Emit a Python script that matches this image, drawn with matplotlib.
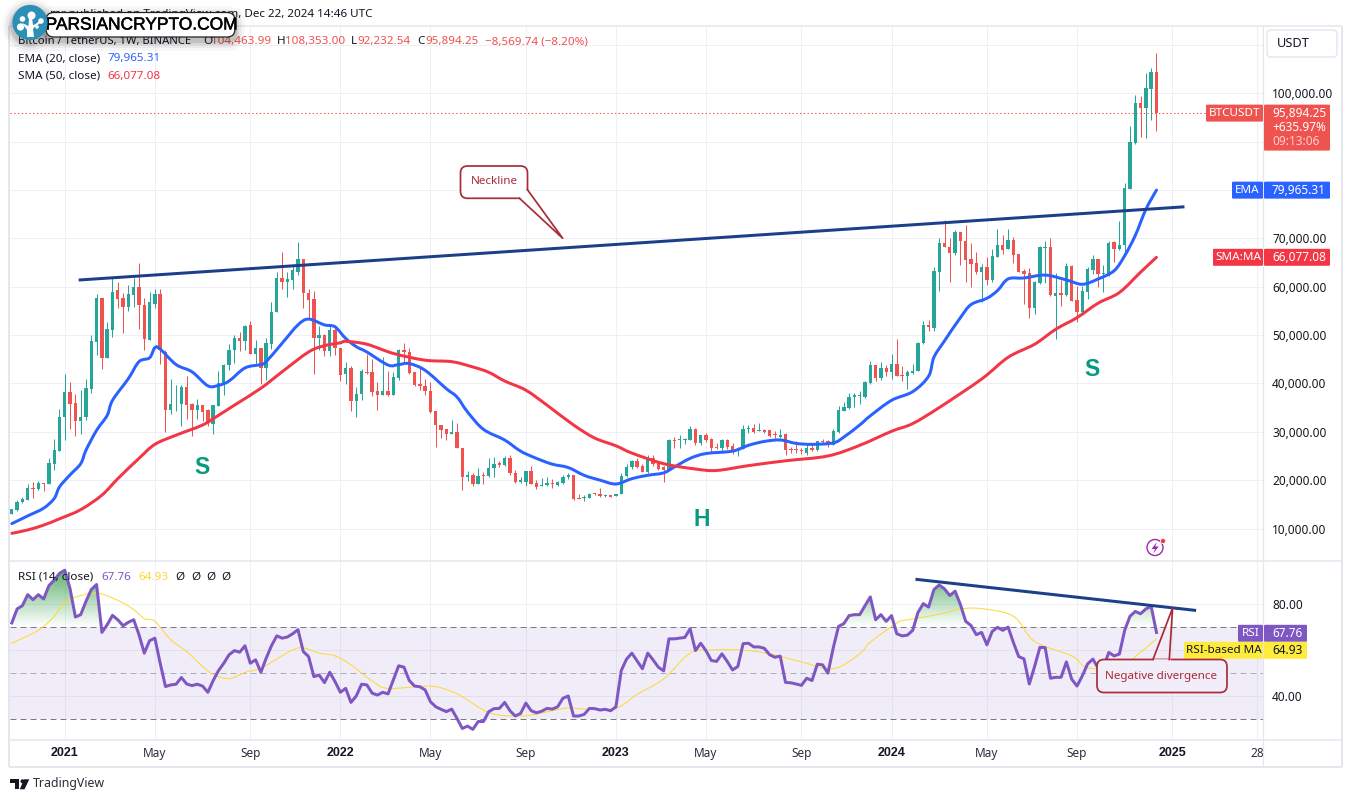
import numpy as np
import matplotlib
matplotlib.use("Agg")
import matplotlib.pyplot as plt
import matplotlib.patheffects as pe
from matplotlib.patches import FancyBboxPatch, Circle, Polygon, PathPatch
from matplotlib.path import Path

plt.rcParams['font.family'] = ['Noto Sans', 'DejaVu Sans']

# ---------- data (prices in thousands of USDT, x = weeks since 4 Jan 2021) ----------
weeks = list(range(-10, 207))
opens = [12.9,13.8,15.4,15.85,18.4,18.1,19.4,19.2,23.4,26,
 33,38.3,36,32.2,33,38.8,48.5,57.6,45.2,51,
 59.3,57.6,55.7,58.3,60,56.3,49,56.5,58.4,46.5,
 34.6,35.7,35.7,39.2,35.7,34.6,35.5,34.5,31.7,35.3,
 40,43.8,46.9,49.3,48.8,52,46,47.4,43.2,48.1,
 54.7,61.7,60.9,61.4,63.1,65.7,58.8,57.4,49.3,50.1,
 46.8,51,47.4,41.9,43.2,36.3,37.8,42.4,42.3,38.5,
 37.7,38.5,37.7,41.2,46.9,46.5,42.3,39.8,39.5,38.5,
 34.3,31.5,30.5,29.5,30,26.7,20.7,21.1,19.3,21,
 20.8,22.5,23.5,23.1,24.5,21.5,19.6,19.6,21.9,19.4,
 18.7,18.9,19.4,18.9,19.5,20.7,21,16.4,16.4,16.4,
 17.3,17.2,16.8,16.9,16.7,17.1,20.8,22.7,23.9,22.9,
 21.7,24.6,23.8,22.7,22,28.3,28.3,28.2,28.2,30.5,
 27.6,29.4,28.6,26.9,26.7,28.3,27.1,26.4,26.5,30.5,
 30.7,30.1,30.3,30.3,29.5,29,29.5,26.4,26.4,26.2,
 25.7,26.7,26.2,28.1,28,27.2,30,34.4,35,37.2,
 37.4,37.2,40.1,43.9,41.2,43.1,42.3,44.1,41.8,41.5,
 42.1,42.5,48.3,52.1,51.4,63.1,69,68.3,67,71.4,
 69.5,65.7,64.9,63.1,64.1,61.4,66.2,68.6,67.7,69.7,
 66.8,63.3,62.8,55.6,60.7,68.1,68.3,58.1,58.7,58.3,
 64.3,57.2,54.7,59,63.5,65.7,62.6,62.6,69.2,67.8,
 68.6,80.2,89.7,97.9,96.9,100.9,104.46]
highs = [14.1,15.9,16.5,19.1,19.6,19.8,19.5,24.5,28.6,34.8,
 42,40.2,37.9,38.7,41,50,58.4,57.6,52.8,61.9,
 60.9,58.6,60.4,61.7,65,57.6,59,59.6,59.6,46.9,
 41,39.6,39.6,41.5,36,36.7,35.5,34.8,35.5,42.6,
 44.1,48.2,50,50.7,52,52.9,49,47.4,49.3,56.8,
 63.1,67.1,63.1,64.3,69.2,65.7,59.6,59.2,51.9,50.3,
 52,52,47.4,44.5,43.6,39.2,42.9,46,45,40.3,
 45.5,42.6,42.4,47.2,48.3,47.4,42.3,43.1,41,40.2,
 34.3,31.5,30.5,32.5,31.8,26.7,21.9,21.4,22.6,21.7,
 24.5,24.8,23.9,25,25.3,22,20.7,21.9,22.9,20,
 20.5,20.7,20.2,19.8,21.1,21.5,21.1,17.2,16.9,17.4,
 17.4,18.4,17.2,17,17.2,21.4,23.4,24.1,24.5,23.3,
 25.3,25.3,23.8,22.9,28.6,28.9,29.3,28.8,31.1,30.7,
 29.4,29.8,28.7,27.6,28.5,28.5,27.6,26.9,31.5,31.5,
 31.7,31.9,30.5,30.3,30.1,30.5,29.8,26.9,28.1,26.6,
 27.2,27.6,28.1,28.6,28.3,30.5,35.4,36.1,38.1,38.1,
 38.5,40.5,44.7,43.9,44.5,43.9,46,49.1,43.6,42.8,
 44.1,48.6,53,53.2,64,70,73.7,70,71.7,71.4,
 72.8,69,67.1,64.7,66.1,67.8,71.9,70.6,71.9,70.2,
 66.8,63.7,63.8,61.1,68.5,69.5,70.1,62.8,61.4,65,
 64.5,60.2,60.2,64,66.5,65.7,64.5,69.5,69.5,73.5,
 81.4,93.2,99.7,99.5,104.2,105.2,108.35]
lows = [12.9,13.6,15.2,15.85,16.3,18,17.7,19.1,22,26,
 28.3,30.5,29.1,29.5,32.4,38,45.8,43,45.2,49.5,
 55.6,50.5,55,55.7,51.2,47,49,55.5,44,30,
 33.6,34.3,31.2,32.7,29.1,32.6,32.2,31.2,29.5,35.3,
 37.6,42.7,44.3,46.7,46.9,46,43.8,39.8,40.8,47.1,
 54.7,59.6,57.9,59.6,62.4,55.6,53.4,42,46.9,45.6,
 45.7,45.9,40.6,39.9,34.3,33.1,36.5,41.9,37.4,34.5,
 37.6,37.4,37.7,40.7,44.3,42,39.4,38.7,37.6,33.9,
 26.9,28.8,28.3,29.5,26.7,17.9,19.8,18.8,19.1,19.1,
 20.7,20.7,22.7,22.9,21.1,19.4,19.4,18.7,19.3,18.2,
 18.7,18.7,18.3,18.8,19.3,20.3,15.8,16,15.6,16.3,
 16.9,16.6,16.5,16.5,16.7,17.1,20.6,22.4,22.6,21.6,
 21.5,22.9,22.1,19.6,22,26.7,26.6,27.4,28.2,27.2,
 27.2,27.9,25.8,26.4,25.9,26.5,25.4,25,26.4,29.7,
 29.8,30.1,29.7,29,28.7,28.8,25.3,25.6,25.6,25.5,
 25.1,26.1,26.1,27.6,26.9,27.2,29.8,34.3,34.8,35.1,
 35.8,36.9,39.9,40.5,40.7,41.5,40.9,41.6,40.5,38.8,
 41.9,42.5,48.1,50.8,50.9,59.2,68.3,60.9,66.5,64.5,
 60.9,59.9,62.6,56.8,60.3,60.9,66.2,66.8,67.7,65,
 63.1,56.4,53.6,54.3,60.5,60.7,58,49.2,56.1,58.1,
 57.1,52.6,54.5,57.4,62.6,59.9,59,62.3,65.2,67.6,
 67.1,80.2,89.6,90.9,90.7,94.4,92.23]
closes = [14,15.5,16,18.4,18.1,19.4,19.3,23.6,26.3,33,
 38.3,35.8,32.2,33.1,39,48.7,57.6,45.2,51.2,59,
 57.4,55.7,58.5,60,56.2,49.1,56.8,58.4,46.9,34.6,
 35.8,35.8,39.2,35.5,34.6,35.5,34.1,31.8,35.5,40,
 43.9,47,49.3,48.8,51.9,46,47.4,43.2,48.3,54.8,
 61.7,60.9,61.5,63.4,65.7,58.6,57.2,49.3,50.1,46.8,
 51,47.3,41.8,43.2,36.3,37.9,42.5,42.1,38.3,37.7,
 38.5,37.7,41.4,46.9,46.4,42.2,39.6,39.4,38.4,34,
 31.4,30.3,29.5,30,26.7,20.7,21.1,19.3,20.9,20.8,
 22.6,23.4,23.2,24.5,21.4,19.6,20,21.9,19.3,18.6,
 19,19.4,19.3,19.6,20.7,21,16.2,16.2,16.6,17.2,
 17.1,16.7,17,16.6,17.1,20.9,22.8,23.9,22.7,21.7,
 24.6,23.4,22.3,22,28.2,28,28.5,28.5,30.5,27.6,
 29.4,28.4,26.7,26.7,28.3,26.9,25.9,26.5,30.6,30.7,
 30,30.3,30,29.2,29.3,29.4,26.2,26.2,26.2,26,
 26.7,26.2,28.1,27.9,27.2,30.1,34.5,35.2,37.2,37.6,
 37.6,40.2,43.9,41.2,43.1,42.3,44.1,41.6,41.6,42.3,
 42.6,48.4,52.1,51.6,63.3,69,68.3,67,71.4,69.4,
 65.6,64.7,63.1,64.1,61.4,66.4,68.6,67.6,69.7,66.6,
 63.1,62.6,55.5,60.9,68.3,68.3,58.3,58.7,58.3,64.2,
 57.1,54.7,59.2,63.7,65.7,62.6,62.8,69,67.8,68.7,
 80.4,89.9,97.9,96.9,101,104.4,95.89]

ema_weeks = [-10,-7,-4,-2,-1,1,3,4,6,8,9,12,14,16,17,18,21,24,27,29,31,34,37,38,41,44,46,49,51,
 53,55,57,61,63,65,68,72,74,76,79,83,86,89,92,95,98,101,104,107,110,113,115,118,121,126,129,
 132,135,138,141,145,147,150,152,156,160,163,164,166,169,171,174,176,178,181,185,189,192,195,
 198,200,202,204,206]
ema_vals = [11.0,12.6,14.2,16.2,18.6,21.1,23.4,26.2,30.3,33.4,36.5,41.0,44.5,45.3,47.4,47.1,43.9,42.4,39.5,39.6,40.5,43.2,43.9,44.5,48.3,52.1,53.3,52.1,51.7,
 49.3,47.6,46.5,43.8,43.9,44.1,42.7,38.9,37.2,34.1,30.5,28.3,26,24.5,23.3,22.6,21,20,19.2,20.3,21,21.5,22.7,24.5,25.5,26,27.2,
 28,28.3,27.6,27.4,27.7,28.9,31.4,33.3,36.5,38.3,41.5,45.4,48.8,53.6,56.3,57.6,59.2,61.6,61.8,62.4,61.4,60.5,61.6,
 63.3,66.4,70.6,76,79.97]
sma_weeks = [-10,-7,-4,-1,3,7,10,14,17,21,26,29,32,37,41,46,49,52,53,57,62,68,73,77,80,83,87,91,96,
 100,104,107,113,119,123,129,136,144,150,156,160,165,173,178,183,187,191,195,199,203,206]
sma_vals = [9.0,9.7,10.7,12.0,13.9,16.9,20.3,24.5,27.4,29.3,31.4,33.4,35.5,39,42.4,46.5,47.8,48.4,48.7,48.1,46.2,44.8,44.5,43.4,42.3,40.5,38.6,35.5,31.4,
 28.7,27.1,25.6,23.4,22.3,22,23,24,25,27.2,30.1,31.7,35,40.9,45.4,48.1,51.2,53.6,56.6,58.8,63,66.08]
neckline_weeks = [2.9, 211.0]
neckline_vals = [61.4, 76.5]

rsi_vals = [71.9,78,79.4,84.2,82,84.2,82.3,88.1,90.5,93.4,
 94.8,86.7,74.5,75.5,81.3,86.4,88.6,67.8,71.1,75.2,
 73.3,70.7,72.2,73.3,66.8,58.8,64.2,65.3,54.4,44.3,
 45,45.3,48.2,45.4,44.7,45.3,44.5,41.8,46.9,51.2,
 54.4,58.1,59.9,59.2,62,54.4,55.9,50.5,56.6,62,
 66.3,65.3,65.8,67.2,69,59.5,57.3,48.6,49.3,46,
 50.5,46.4,41.8,43.5,37.4,40.2,45.3,45,41.4,40.6,
 41.8,41.1,47.2,53.3,52.7,46.9,44.5,44.2,42.8,37.7,
 35.5,34.4,33.4,34.5,30.5,26.1,27.1,25.7,29.1,29.1,
 33.4,34.7,34.8,37.4,33.8,31.5,32.6,37.1,33.8,32.9,
 33.6,34.8,34.5,35.5,39.2,40.2,31.5,31.5,32.2,34.8,
 34.7,34.1,34.4,33.8,35.5,51.2,56.2,58.8,55.4,52,
 58.8,55.9,52.7,51.1,65,65,65.3,65.6,69.4,59.9,
 63.1,59.8,55.6,55.2,58.5,55.2,51.5,53,62.9,63.1,
 61.5,61.5,60.9,58.1,57,57.5,46.1,45.9,45.4,44.8,
 47.9,46.9,54,53.7,50.1,61,70.4,71.6,75.1,75.5,
 75.5,79.4,83.2,73.3,75.5,72.6,75.1,67.2,66.3,66.6,
 68.7,76.5,80.3,78.8,86.4,88.4,86.7,83.8,85.7,79.9,
 72.6,70.8,66.8,67.8,62.4,68.2,70,68.7,70.1,63.4,
 57.3,56.3,45.4,53,61.3,61.2,47.9,48.3,48.3,55,
 47.5,44.5,48.9,54.1,56.2,52.2,52.7,59.1,57.6,58.4,
 68.7,74.8,76.9,75.9,78,79.1,67.76]
rsima_weeks = [-10,-5,-2,0,2,6,10,13,15,17,20,23,26,28,31,34,37,40,43,45,48,51,54,58,61,69,73,
 75,79,82,87,92,95,99,104,108,113,118,122,128,133,139,145,150,152,157,158,161,166,169,173,179,183,190,193,199,202,206]
rsima_vals = [63.1,68.7,74.8,80.9,83.1,84.9,81.7,77.7,73.8,72.6,64.6,59.5,53,49.6,47.7,50.4,52.2,56.3,60.2,61.1,58.8,57.6,53.7,46.7,43.5,44.5,42.1,
 39.9,34.1,31.9,31.6,33.8,35,34.4,34.8,40.9,47.6,58.8,60.2,60.1,58.5,55,52,58.5,63.6,71.9,72.9,74,76.2,78,78.1,74.8,63.9,57.6,52.5,52.5,57.3,65]
rsi_trend_weeks = [160.8, 213.2]
rsi_trend_vals = [90.8, 77.4]

price_ticks = [10, 20, 30, 40, 50, 60, 70, 80, 90, 100, 110]
price_labeled = [10, 20, 30, 40, 50, 60, 70, 100]
rsi_grid = [80, 60, 40]
rsi_labeled = [80, 40]
time_ticks = [0, 17, 35, 52, 69, 87, 104, 121, 139, 156, 174, 191, 209, 225]
time_labels = ['2021', 'May', 'Sep', '2022', 'May', 'Sep', '2023', 'May', 'Sep', '2024', 'May', 'Sep', '2025', '28']
year_labels = {'2021', '2022', '2023', '2024', '2025'}

last_close, last_ema, last_sma = 95.89425, 79.96531, 66.07708
last_rsi, last_rsima = 67.76, 64.93

# ---------- colours ----------
UP, DOWN = '#26a69a', '#ef5350'
EMA_C, SMA_C = '#2962ff', '#f23645'
NAVY = '#1c3f8a'
GRID = '#eef0f5'
BORDER = '#e4e6ee'
TXT = '#131722'
PURPLE = '#7e57c2'
YEL = '#fdd835'
CALL = '#a82c38'
PX = 0.72

def smooth(a, xs, ys, color, lw, zorder):
    """Stroke a curve through the read points, with Bezier segments (no added data)."""
    p = np.column_stack([xs, ys]).astype(float)
    verts = [tuple(p[0])]
    codes = [Path.MOVETO]
    n = len(p)
    for i in range(n - 1):
        p0 = p[max(i - 1, 0)]; p1 = p[i]; p2 = p[i + 1]; p3 = p[min(i + 2, n - 1)]
        verts += [tuple(p1 + (p2 - p0) / 6), tuple(p2 - (p3 - p1) / 6), tuple(p2)]
        codes += [Path.CURVE4] * 3
    a.add_patch(PathPatch(Path(verts, codes), fc='none', ec=color, lw=lw, zorder=zorder, capstyle='round', joinstyle='round'))

W, H = 1351, 802
fig = plt.figure(figsize=(W / 100, H / 100), dpi=100, facecolor='white')
L, R = 10, 1263
ax = fig.add_axes([L / W, 1 - 561 / H, (R - L) / W, (561 - 27) / H])
rx = fig.add_axes([L / W, 1 - 739.5 / H, (R - L) / W, (739.5 - 561) / H])
ov = fig.add_axes([0, 0, 1, 1], zorder=10)
ov.set_xlim(0, W); ov.set_ylim(H, 0); ov.axis('off'); ov.patch.set_alpha(0)

xlim = (-10.34, 226.1)
for a in (ax, rx):
    a.set_xlim(*xlim)
    a.set_facecolor('white')
    for s in a.spines.values():
        s.set_visible(False)
    a.set_axisbelow(True)
    a.set_xticks(time_ticks)
    a.grid(axis='x', color=GRID, lw=PX)
    a.yaxis.tick_right()

# main pane
ax.set_ylim(3.28, 113.7)
ax.set_yticks(price_ticks)
ax.set_yticklabels([f'{v*1000:,.2f}' if v in price_labeled else '' for v in price_ticks])
ax.grid(axis='y', color=GRID, lw=PX)
ax.tick_params(axis='both', length=0, labelsize=8.5, labelcolor=TXT, pad=6.5)
ax.tick_params(axis='x', labelbottom=False)

wk = np.array(weeks); o = np.array(opens); h = np.array(highs); l = np.array(lows); c = np.array(closes)
cols = np.where(c >= o, UP, DOWN)
ax.vlines(wk, l, h, colors=cols, lw=PX, zorder=2)
ax.bar(wk, np.maximum(np.abs(c - o), 0.12), bottom=np.minimum(o, c), width=0.64, color=cols, lw=0, zorder=3)
ax.axhline(last_close, xmax=(1206 - L) / (R - L), color=DOWN, lw=0.8, ls=(0, (1.2, 2.2)), zorder=2)
smooth(ax, ema_weeks, ema_vals, EMA_C, 3 * PX, 4)
smooth(ax, sma_weeks, sma_vals, SMA_C, 3 * PX, 4)
ax.plot(neckline_weeks, neckline_vals, color=NAVY, lw=3 * PX, zorder=5)

# RSI pane
rx.set_ylim(21.3, 98.8)
rx.set_yticks(rsi_labeled)
rx.set_yticklabels([f'{v:.2f}' for v in rsi_labeled])
for v in rsi_grid:
    rx.axhline(v, color=GRID, lw=PX, zorder=0)
rx.axhspan(30, 70, color=PURPLE, alpha=0.1, lw=0, zorder=1)
for v, al in ((70, 1.0), (50, 0.55), (30, 1.0)):
    rx.axhline(v, color='#787b86', alpha=al, lw=PX, ls=(0, (6, 4)), zorder=1.5)
rx.tick_params(axis='y', length=0, labelsize=8.5, labelcolor=TXT, pad=6.5)
rx.set_xticklabels(time_labels)
rx.tick_params(axis='x', length=0, labelsize=8.5, labelcolor=TXT, pad=5.5)
for t in rx.get_xticklabels():
    if t.get_text() in year_labels:
        t.set_fontfamily('Liberation Sans')
        t.set_fontweight('bold')
        t.set_fontsize(9)
    else:
        t.set_color('#2a2e39')

rsi = np.array(rsi_vals)
poly = rx.fill_between(wk, rsi, 70, where=rsi > 70, interpolate=True, color='none', lw=0)
grad = np.zeros((120, 2, 4))
grad[..., 0] = 0.22; grad[..., 1] = 0.62; grad[..., 2] = 0.30
grad[..., 3] = np.linspace(0.85, 0, 120)[:, None]
im = rx.imshow(grad, extent=[xlim[0], xlim[1], 70, 96], aspect='auto', zorder=1.6, origin='upper')
cp = Path.make_compound_path(*poly.get_paths())
im.set_clip_path(PathPatch(cp, transform=rx.transData))
rx.set_xlim(*xlim); rx.set_ylim(21.3, 98.8)
smooth(rx, rsima_weeks, rsima_vals, YEL, 1 * PX, 3)
rx.plot(wk, rsi, color=PURPLE, lw=3 * PX, zorder=4, solid_joinstyle='round')
rx.plot(rsi_trend_weeks, rsi_trend_vals, color=NAVY, lw=3 * PX, zorder=5)

fig.canvas.draw()

def y_px(a, v):
    return H - a.transData.transform((0, v))[1]

# frame
for xs, ys, lw in (([9, 9], [26, 767], 2), ([1342, 1342], [26, 767], 2), ([9, 1342], [26, 26], 1.5),
                   ([9, 1342], [767, 767], 2), ([R, R], [26, 767], 1.2), ([9, 1342], [561, 561], 1.5),
                   ([9, 1342], [739.5, 739.5], 1.5)):
    ov.plot(xs, ys, color=BORDER, lw=lw * PX, solid_capstyle='butt', zorder=1)

def tag(x0, x1, yc, hh, col, label=None, tcol='white', size=8.4, x=None, ha='center'):
    ov.add_patch(FancyBboxPatch((x0, yc - hh / 2), x1 - x0, hh, boxstyle='round,pad=0,rounding_size=1.2',
                                fc=col, ec='none', zorder=3))
    if label:
        ov.text(x if x else (x0 + x1) / 2, yc + 0.4, label, color=tcol, fontsize=size, ha=ha, va='center', zorder=4)

yp = y_px(ax, last_close)
tag(1206, 1263, yp, 17, '#ef5350', 'BTCUSDT')
tag(1264, 1330, yp + 14.5, 46, '#ef5350')
ov.text(1272, yp + 0.4, f'{last_close*1000:,.2f}', color='white', fontsize=8.5, va='center', zorder=4)
ov.text(1272, yp + 14.5, '+635.97%', color='white', fontsize=8.5, va='center', zorder=4)
ov.text(1272, yp + 28.5, '09:13:06', color='#fbd0ce', fontsize=8.5, va='center', zorder=4)
yp = y_px(ax, last_ema)
tag(1232, 1263, yp, 17, EMA_C, 'EMA')
tag(1264, 1330, yp, 17, EMA_C, f'{last_ema*1000:,.2f}', x=1272, ha='left', size=8.5)
yp = y_px(ax, last_sma)
tag(1213, 1263, yp, 17, SMA_C, 'SMA:MA')
tag(1264, 1330, yp, 17, SMA_C, f'{last_sma*1000:,.2f}', x=1272, ha='left', size=8.5)
yp = y_px(rx, last_rsi) + 0.8
tag(1238, 1263, yp, 17, PURPLE, 'RSI')
tag(1264, 1307, yp, 17, PURPLE, f'{last_rsi:.2f}', x=1272, ha='left', size=8.5)
yp = yp + 17
tag(1184, 1263, yp, 17, '#ffeb3b', 'RSI-based MA', tcol=TXT)
tag(1264, 1307, yp, 17, '#ffeb3b', f'{last_rsima:.2f}', tcol=TXT, x=1272, ha='left', size=8.5)

# USDT button
ov.add_patch(FancyBboxPatch((1267, 30), 70, 27, boxstyle='round,pad=0,rounding_size=4', fc='white', ec=BORDER, lw=1, zorder=3))
ov.text(1277, 43.5, 'USDT', color=TXT, fontsize=9.2, va='center', zorder=4)

# header / legends
ov.text(372, 15, 'mr published on TradingView.com, Dec 22, 2024 14:46 UTC', color=TXT, fontsize=8.4, ha='right', va='center', zorder=2)
def legend_row(y, items):
    for x, s, col in items:
        ov.text(x, y, s, color=col, fontsize=8.4, va='center', zorder=2)
ov.text(18, 41.7, 'Bitcoin / TetherUS, 1W, BINANCE', color=TXT, fontsize=8.1, va='center', zorder=2)
legend_row(41.7, [(203, 'O', TXT), (211.5, '104,463.99', DOWN),
                  (276.5, 'H', TXT), (285, '108,353.00', DOWN), (350.5, 'L', TXT), (357, '92,232.54', DOWN),
                  (417.5, 'C', TXT), (425.5, '95,894.25', DOWN), (485, '−8,569.74 (−8.20%)', DOWN)])
legend_row(59, [(18, 'EMA (20, close)', TXT), (107.5, '79,965.31', EMA_C)])
legend_row(76, [(18, 'SMA (50, close)', TXT), (107, '66,077.08', SMA_C)])
legend_row(577, [(18, 'RSI (14, close)', TXT), (101.5, '67.76', PURPLE), (138, '64.93', YEL),
                 (175, 'Ø', TXT), (191, 'Ø', TXT), (206, 'Ø', TXT), (221, 'Ø', TXT)])

# pattern letters
for x, y, s in ((202, 467, 'S'), (702, 519, 'H'), (1092, 370, 'S')):
    ov.text(x, y, s, color='#089981', fontsize=16.5, family='Liberation Sans', fontweight='bold', ha='center', va='center', zorder=3)

# Neckline callout
ov.add_patch(FancyBboxPatch((460.5, 166), 67, 32.3, boxstyle='round,pad=0,rounding_size=7', fc='white', ec=CALL, lw=1.25, zorder=3))
ov.add_patch(Polygon([(519.5, 198.3), (562.7, 238.3), (527.3, 189.5)], closed=True, fc='white', ec='none', zorder=3.1))
ov.plot([519.5, 562.7, 527.3], [198.3, 238.3, 189.5], color=CALL, lw=1.25, zorder=3.2)
ov.text(494, 182, 'Neckline', color=CALL, fontsize=8.4, ha='center', va='center', zorder=4)

# Negative divergence callout
ov.add_patch(FancyBboxPatch((1097, 659.5), 130, 33, boxstyle='round,pad=0,rounding_size=7', fc='#f1edf9', ec=CALL, lw=1.25, zorder=3))
ov.plot([1153, 1172.6, 1169.3], [659.5, 608, 659.5], color=CALL, lw=1.25, zorder=3.2)
ov.plot([1154, 1168.5], [659.5, 659.5], color='#f1edf9', lw=1.8, zorder=3.15)
ov.text(1161, 676, 'Negative divergence', color=CALL, fontsize=8.4, ha='center', va='center', zorder=4)

# lightning icon
ov.add_patch(Circle((1155, 547.5), 8, fc='none', ec='#9c27b0', lw=1.0, zorder=3))
ov.add_patch(Polygon([(1157, 542), (1151.5, 549), (1155, 549), (1153, 553.5), (1158.8, 546.5), (1155.3, 546.5)], closed=True, fc='#9c27b0', ec='none', zorder=3))
ov.add_patch(Circle((1163, 541), 2.6, fc='#f23645', ec='white', lw=0.6, zorder=3.2))

# TradingView logo
ov.add_patch(Polygon([(10, 779.3), (19.3, 779.3), (19.3, 789.3), (15, 789.3), (15, 783.3), (10, 783.3)], closed=True, fc=TXT, ec='none', zorder=3))
ov.add_patch(Circle((22.5, 781.3), 2, fc=TXT, ec='none', zorder=3))
ov.add_patch(Polygon([(24, 779.3), (29.3, 779.3), (24.5, 789.3), (19.8, 789.3)], closed=True, fc=TXT, ec='none', zorder=3))
ov.text(33, 784, 'TradingView', color='#2a2e39', fontsize=8.9, va='center', zorder=3)

# site logo with shadow
for grow, al in ((10, 0.03), (7, 0.05), (4, 0.08), (2, 0.10)):
    ov.add_patch(FancyBboxPatch((46 - grow, 12.5 - grow + 4), 189 + 2 * grow, 24.5 + 2 * grow,
                                boxstyle=f'round,pad=0,rounding_size={8+grow}', fc='black', alpha=al, ec='none', zorder=5))
    ov.add_patch(Circle((30, 26), 17.6 + grow, fc='black', alpha=al, ec='none', zorder=5))
ov.add_patch(FancyBboxPatch((46, 12.5), 189, 24.5, boxstyle='round,pad=0,rounding_size=8', fc='white', ec='#222222', lw=0.9, zorder=6))
ov.text(141.5, 25, 'PARSIANCRYPTO.COM', color='black', fontsize=12.5, family='Liberation Sans', ha='center', va='center', zorder=7,
        path_effects=[pe.withStroke(linewidth=0.35, foreground='black')])
ov.add_patch(Circle((30, 22.5), 17.6, fc='#2c8fb6', ec='none', zorder=8))
ov.add_patch(Polygon([(27, 37), (34, 37), (33, 29), (37, 24), (33, 25), (32, 18), (29, 18), (28.5, 26), (22, 23), (27, 30)], closed=True, fc='white', ec='none', zorder=9))
for (cx, cy), r in (((31.5, 15.5), 4), ((41, 21), 2.8), ((22.5, 19), 2.8), ((20.5, 27), 3.6), ((37, 27), 1.8)):
    ov.add_patch(Circle((cx, cy), r, fc='white', ec='none', zorder=9))
ov.plot([36, 41], [25, 21], color='white', lw=1.5, zorder=9)

fig.savefig('out.png', dpi=100, facecolor='white')
